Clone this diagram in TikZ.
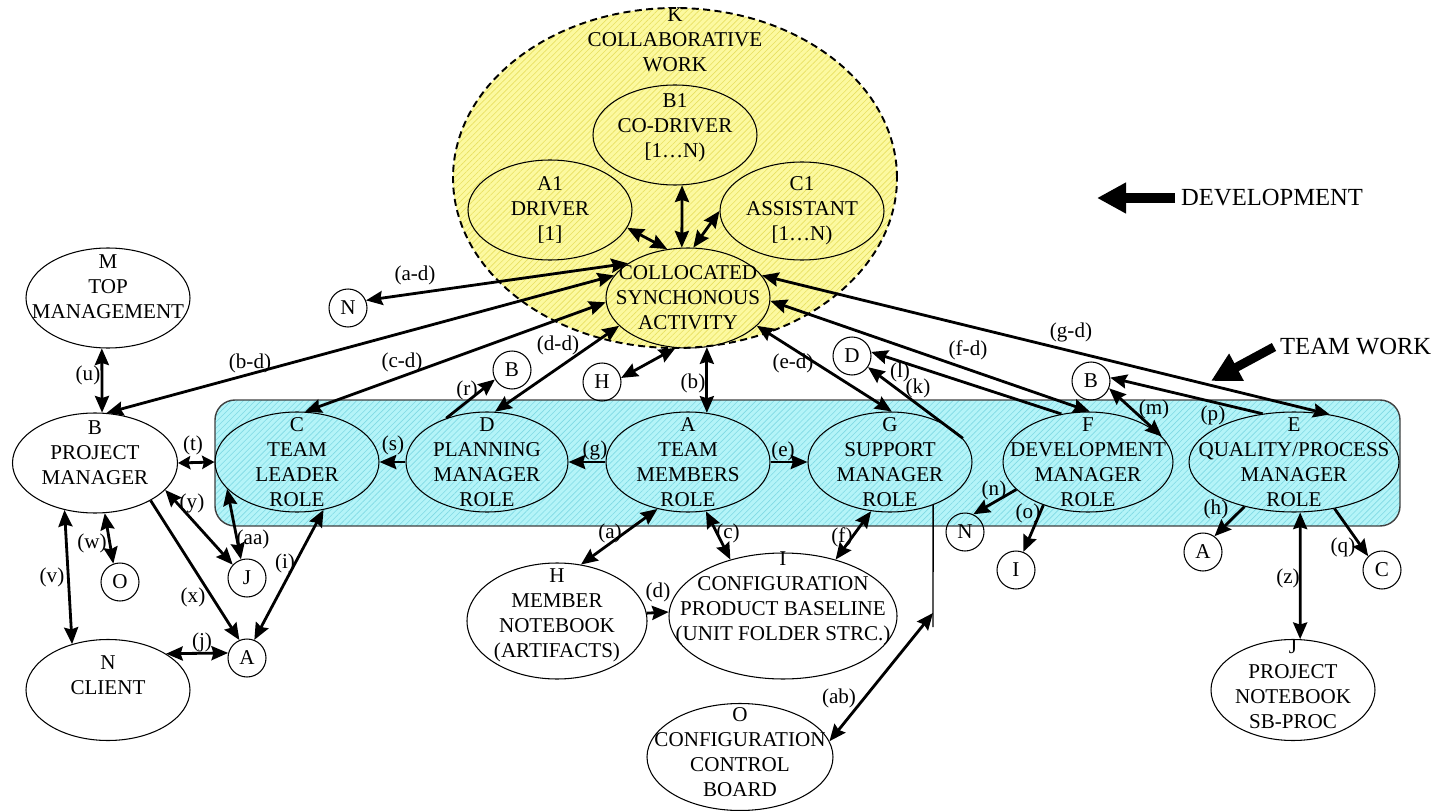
\documentclass[tikz,border=0pt]{standalone}
\usepackage{fontspec}
\setmainfont{Liberation Serif}
\usetikzlibrary{shapes.geometric,arrows.meta,patterns.meta}
\definecolor{kyel}{RGB}{252,249,160}
\definecolor{kyelline}{RGB}{232,224,96}
\definecolor{tcyan}{RGB}{180,244,248}
\definecolor{tcyanline}{RGB}{128,218,228}

\begin{document}
\begin{tikzpicture}[x=0.02cm,y=-0.02cm,
  every node/.style={font=\fontsize{12}{14.2}\selectfont},
  oval/.style 2 args={draw, ellipse, line width=0.6pt, minimum width=#1*0.02cm, minimum height=#2*0.02cm, inner sep=0pt},
  dot/.style={draw, circle, line width=0.6pt, minimum size=0.76cm, inner sep=0pt},
  txt/.style={align=center},
  link/.style={line width=1.6pt},
  >={Stealth[length=9.5pt,width=8pt,inset=1.2pt]},
  short/.style={>={Stealth[length=7pt,width=7.5pt,inset=1pt]}},
  big/.style={-{Triangle[length=0.58cm,width=0.58cm]}},
  yhatch/.style={preaction={fill=kyel}, pattern={Lines[angle=45,distance=2.4pt,line width=0.35pt]}, pattern color=kyelline},
  chatch/.style={preaction={fill=tcyan}, pattern={Lines[angle=45,distance=2.4pt,line width=0.35pt]}, pattern color=tcyanline}]
\useasboundingbox (0,0) rectangle (1438,811);

\node[draw=black!75, line width=0.8pt, rounded corners=0.4cm, minimum width=1185*0.02cm, minimum height=126*0.02cm, inner sep=0pt, chatch] (team) at (807.5,463) {};
\node[oval={444}{340}, dashed, dash pattern=on 4pt off 2.5pt, line width=1.1pt, yhatch, label={[txt,yshift=2.76cm]center:K\\COLLABORATIVE\\WORK}] (K) at (675,178) {};

\node[oval={164}{100}, label={[txt,yshift=0.14cm]center:B1\\CO-DRIVER\\{[}1…N)}] (kB1) at (675,135) {};
\node[oval={164}{100}, label={[txt]center:A1\\DRIVER\\{[}1]}] (kA1) at (550,210) {};
\node[oval={164}{98}, label={[txt]center:C1\\ASSISTANT\\{[}1…N)}] (kC1) at (802,211) {};
\node[oval={164}{100}, label={[txt]center:COLLOCATED\\SYNCHONOUS\\ACTIVITY}] (coll) at (688,298) {};

\node[oval={164}{100}, label={[txt,yshift=0.22cm]center:M\\TOP\\MANAGEMENT}] (top) at (108,298) {};
\node[oval={165}{100}, label={[txt,yshift=0.2cm]center:B\\PROJECT\\MANAGER}] (pm) at (95,463) {};
\node[oval={164}{101}, label={[txt,yshift=0.3cm]center:N\\CLIENT}] (client) at (108,690) {};

\node[oval={164}{100}, label={[txt]center:C\\TEAM\\LEADER\\ROLE}] (lead) at (297,462) {};
\node[oval={162}{100}, label={[txt]center:D\\PLANNING\\MANAGER\\ROLE}] (plan) at (487,462) {};
\node[oval={164}{100}, label={[txt]center:A\\TEAM\\MEMBERS\\ROLE}] (memb) at (688,462) {};
\node[oval={164}{100}, label={[txt]center:G\\SUPPORT\\MANAGER\\ROLE}] (supp) at (890,462) {};
\node[oval={170}{100}, label={[txt]center:F\\DEVELOPMENT\\MANAGER\\ROLE}] (devm) at (1088,462) {};
\node[oval={210}{100}, label={[txt]center:E\\QUALITY/PROCESS\\MANAGER\\ROLE}] (qual) at (1294,462) {};

\node[oval={180}{116}, label={[txt,yshift=0.12cm]center:H\\MEMBER\\NOTEBOOK\\(ARTIFACTS)}] (mnote) at (557,621) {};
\node[oval={228}{126}, label={[txt,yshift=0.36cm]center:I\\CONFIGURATION\\PRODUCT BASELINE\\(UNIT FOLDER STRC.)}] (cpb) at (783,616) {};
\node[oval={186}{107}, label={[txt,yshift=0.1cm]center:O\\CONFIGURATION\\CONTROL\\BOARD}] (ccb) at (740,757) {};
\node[oval={164}{101}, label={[txt,yshift=0.12cm]center:J\\PROJECT\\NOTEBOOK\\SB-PROC}] (pnote) at (1293,690) {};

\node[dot] (nN1) at (348,308) {N};
\node[dot] (nB1) at (512,370) {B};
\node[dot] (nH) at (602,382) {H};
\node[dot] (nD) at (852,356) {D};
\node[dot] (nB2) at (1091,381) {B};
\node[dot] (nN2) at (965,532) {N};
\node[dot] (nI) at (1016,570) {I};
\node[dot] (nA2) at (1203,552) {A};
\node[dot] (nC) at (1382,570) {C};
\node[dot] (nO) at (120,582) {O};
\node[dot] (nJ) at (247,578) {J};
\node[dot] (nA1) at (247,658) {A};

\draw[link,<->] (kA1.347) -- (coll.113);
\draw[link,<->] (kB1.278) -- (coll.97);
\draw[link,<->] (kC1.180) -- (coll.84);

\draw[link,<->] (nN1.23) -- (coll.150);
\draw[link,<->] (pm.77) -- (coll.163);
\draw[link,<->] (lead.81) -- (coll.183);
\draw[link,<->] (plan.81) -- (coll.202);
\draw[link,<->] (coll.291) -- (memb.69);
\draw[link,<->] (nH.12) -- (coll.256);
\draw[link,<->] (coll.338) -- (supp.88);
\draw[link,<->] (coll.-2) -- (devm.88);
\draw[link,<->] (coll.17) -- (qual.53);
\draw[link,->] (devm.119) -- (nD.12);
\draw[link,->] (supp.18) -- (nD.325);
\draw[link,<->] (nB2.338) -- (devm.19);
\draw[link,->] (qual.123) -- (nB2.10);
\draw[link,->] (plan.133) -- (nB1.209);

\draw[link,->] (memb.west) -- (plan.east);
\draw[link,->] (memb.east) -- (supp.west);
\draw[link,->] (plan.west) -- (lead.east);
\draw[link,short,<->] (pm.east) -- (lead.west);

\draw[link,<->] (top.263) -- (pm.82);
\draw[link,<->] (pm.237) -- (client.128);
\draw[link,<->] (pm.281) -- (nO.110);
\draw[link,->] (pm.326) -- (nA1.113);
\draw[link,<->] (pm.339) -- (nJ.137);
\draw[link,<->] (lead.201) -- (nJ.108);
\draw[link,<->] (lead.299) -- (nA1.68);
\draw[link,<->] (client.32) -- (nA1.165);

\draw[link,<->] (memb.237) -- (mnote.67);
\draw[link,<->] (memb.290) -- (cpb.133);
\draw[link,->] (mnote.5) -- (cpb.178);
\draw[link,<->] (supp.249) -- (cpb.47);
\coordinate (gend) at (933,627);
\coordinate (gab) at (933,613);
\draw[line width=0.8pt] (supp.315) -- (gend);
\draw[link,<->] (gab) -- (ccb.10);

\draw[link,->] (devm.201) -- (nN2.65);
\draw[link,->] (devm.224) -- (nI.68);
\draw[link,->] (qual.222) -- (nA2.54);
\draw[link,->] (qual.311) -- (nC.135);
\draw[link,<->] (qual.277) -- (pnote.82);

\node (lad) at (415,275) {(a-d)};
\node (lbd) at (250,363) {(b-d)};
\node (lcd) at (402,362) {(c-d)};
\node (ldd) at (558,345) {(d-d)};
\node (lb) at (693,383) {(b)};
\node (led) at (793,363) {(e-d)};
\node (ll) at (900,372) {(l)};
\node (lk) at (918,388) {(k)};
\node (lfd) at (968,350) {(f-d)};
\node (lgd) at (1071,332) {(g-d)};
\node (lm) at (1154,409) {(m)};
\node (lp) at (1213,415) {(p)};
\node (lr) at (467,390) {(r)};
\node (lg) at (595,450) {(g)};
\node (le) at (783,451) {(e)};
\node (ls) at (393,445) {(s)};
\node (lt) at (193,445) {(t)};
\node (lu) at (88,375) {(u)};
\node (lv) at (52,577) {(v)};
\node (lw) at (92,543) {(w)};
\node (lx) at (193,597) {(x)};
\node (ly) at (192,503) {(y)};
\node (laa) at (253,539) {(aa)};
\node (li) at (285,563) {(i)};
\node (lj) at (202,642) {(j)};
\node (la) at (610,533) {(a)};
\node (lc) at (728,533) {(c)};
\node (ld) at (658,592) {(d)};
\node (lf) at (842,537) {(f)};
\node (lab) at (839,698) {(ab)};
\node (ln) at (994,490) {(n)};
\node (lo) at (1028,513) {(o)};
\node (lh) at (1216,509) {(h)};
\node (lq) at (1343,547) {(q)};
\node (lz) at (1288,578) {(z)};

\node[anchor=west, font=\fontsize{14}{16}\selectfont] (devt) at (1175,198) {DEVELOPMENT};
\coordinate (devtip) at (1097,198);
\draw[big, line width=0.22cm] (devt.west) -- (devtip);
\node[anchor=west, font=\fontsize{14}{16}\selectfont] (tw) at (1274,347) {TEAM WORK};
\coordinate (twtip) at (1211,381);
\draw[big, line width=0.18cm] (tw.west) -- (twtip);
\end{tikzpicture}
\end{document}
